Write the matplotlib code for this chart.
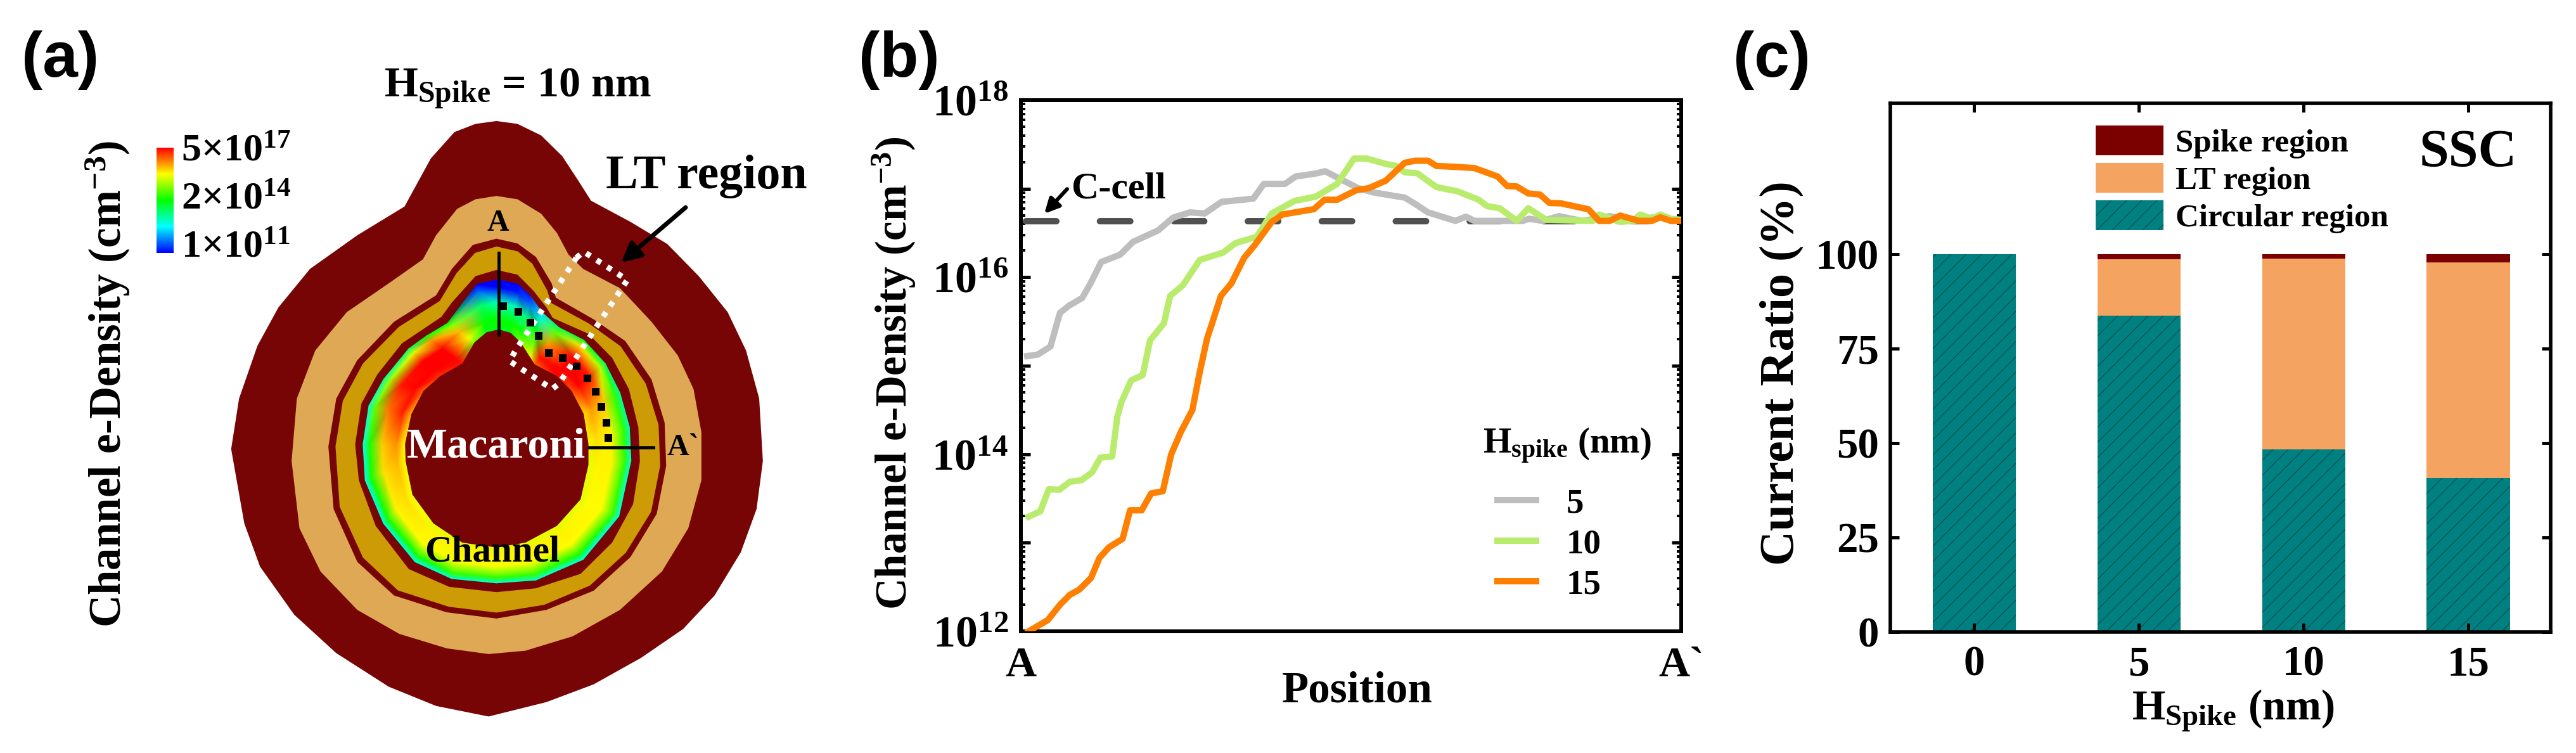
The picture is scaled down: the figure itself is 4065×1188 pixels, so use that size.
import numpy as np
import matplotlib
matplotlib.use("Agg")
import matplotlib.pyplot as plt
from matplotlib.colors import LinearSegmentedColormap
from matplotlib.ticker import FixedLocator, FuncFormatter, NullFormatter

plt.rcParams['font.family'] = ['Liberation Serif', 'DejaVu Serif']
plt.rcParams['font.weight'] = 'bold'
plt.rcParams['axes.labelweight'] = 'bold'
plt.rcParams['mathtext.fontset'] = 'custom'
plt.rcParams['mathtext.rm'] = 'Liberation Serif:bold'
plt.rcParams['mathtext.it'] = 'Liberation Serif:bold'
plt.rcParams['mathtext.bf'] = 'Liberation Serif:bold'
plt.rcParams['hatch.linewidth'] = 0.6

# =========================
# (a) outlines of the cell cross-section
# =========================
blocking_outline = [(945, 252), (985, 258), (1030, 282), (1070, 325), (1100, 375), (1125, 418), (1200, 462),
                    (1270, 508), (1330, 575), (1385, 650), (1420, 730), (1445, 830), (1452, 960), (1440, 1060),
                    (1410, 1150), (1360, 1240), (1300, 1310), (1220, 1370), (1130, 1425), (1040, 1462), (930, 1492),
                    (830, 1470), (740, 1430), (640, 1360), (560, 1280), (495, 1180), (465, 1090), (440, 935),
                    (455, 830), (490, 720), (530, 640), (590, 560), (680, 490), (770, 430), (790, 390), (820, 330),
                    (865, 275), (905, 258)]
tan_outline = [(945, 408), (985, 415), (1030, 445), (1060, 485), (1082, 530), (1110, 560), (1180, 600), (1240, 670),
               (1290, 740), (1320, 810), (1335, 900), (1335, 1000), (1310, 1100), (1260, 1190), (1180, 1270),
               (1090, 1325), (1000, 1355), (930, 1362), (850, 1350), (760, 1320), (680, 1270), (610, 1190),
               (570, 1100), (555, 960), (565, 830), (600, 730), (660, 650), (740, 590), (805, 540), (830, 490),
               (870, 435), (905, 415)]
ring1_outline = [(945, 497), (985, 507), (1020, 535), (1050, 590), (1058, 620), (1130, 665), (1190, 710), (1240, 790),
                 (1265, 880), (1268, 970), (1250, 1070), (1200, 1160), (1130, 1230), (1040, 1270), (945, 1288),
                 (850, 1275), (750, 1240), (680, 1170), (635, 1060), (625, 930), (640, 830), (680, 750), (750, 670),
                 (830, 615), (860, 560), (900, 510)]
gold_outline = [(945, 515), (985, 525), (1012, 550), (1040, 605), (1048, 632), (1120, 675), (1180, 722), (1228, 800),
                (1252, 885), (1255, 970), (1238, 1065), (1190, 1150), (1122, 1218), (1035, 1258), (945, 1274),
                (855, 1262), (758, 1228), (692, 1160), (648, 1055), (640, 930), (654, 835), (692, 758), (760, 682),
                (838, 628), (870, 570), (905, 528)]
ring2_outline = [(945, 562), (985, 572), (1015, 605), (1040, 640), (1052, 662), (1120, 695), (1165, 745), (1197, 810),
                 (1215, 890), (1218, 960), (1205, 1050), (1165, 1130), (1105, 1195), (1020, 1225), (945, 1233),
                 (855, 1222), (778, 1185), (715, 1095), (683, 1000), (676, 925), (688, 840), (718, 780), (765, 715),
                 (840, 660), (860, 630), (905, 575)]

# channel stations: macaroni side, gate side, and the colour level at five depths between them
channel_inner = [(949, 686), (972, 693), (991, 713), (1009, 744), (1018, 759), (1060, 783), (1088, 814), (1111, 862),
                 (1120, 924), (1120, 968), (1105, 1040), (1060, 1095), (1000, 1130), (945, 1140), (880, 1130),
                 (825, 1090), (785, 1030), (772, 960), (771, 924), (783, 862), (806, 814), (838, 783), (880, 757),
                 (903, 713), (926, 692)]
channel_outer = [(949, 582), (986, 592), (1009, 616), (1032, 651), (1064, 682), (1111, 708), (1152, 757), (1180, 818),
                 (1198, 889), (1201, 959), (1178, 1075), (1110, 1165), (1020, 1208), (945, 1214), (860, 1205),
                 (790, 1170), (730, 1090), (695, 1000), (691, 925), (702, 845), (730, 790), (778, 726), (811, 700),
                 (852, 673), (908, 592)]
channel_level = [[.48, .50, .32, .00, .00], [.48, .50, .32, .02, .00], [.62, .52, .38, .10, .02],
                 [.75, .65, .50, .30, .22], [.90, .98, .85, .60, .42], [1.0, 1.0, 1.0, .78, .48],
                 [.92, 1.0, .97, .68, .42], [.78, .85, .80, .55, .35], [.74, .78, .76, .55, .33],
                 [.72, .76, .76, .55, .30], [.72, .75, .75, .55, .28], [.72, .76, .75, .52, .28],
                 [.72, .76, .74, .55, .30], [.72, .76, .74, .55, .30], [.72, .76, .74, .55, .30],
                 [.72, .76, .75, .52, .28], [.74, .78, .76, .52, .28], [.74, .82, .78, .52, .28],
                 [.75, .86, .80, .52, .28], [.82, .97, .88, .60, .30], [.90, 1.0, .98, .66, .35],
                 [.95, 1.0, 1.0, .72, .40], [.98, 1.0, 1.0, .85, .50], [.62, .74, .82, .65, .50],
                 [.48, .50, .40, .10, .00]]
channel_depth = [0, .2, .55, .85, 1]
channel_colours = ['#0000FF', '#00FFFF', '#00FF00', '#FFFF00', '#FF0000']

lt_box = [(1097, 537), (1111, 524), (1194, 583), (1064, 799), (1051, 810), (970, 752), (981, 730), (1097, 537)]
current_path = [(958, 637), (987, 650), (1009, 672), (1025, 700), (1044, 735), (1071, 746), (1097, 763), (1118, 788),
                (1134, 816), (1145, 847), (1154, 880), (1158, 912)]
cut_a = [(949, 527), (949, 698)]
cut_a2 = [(1122, 932), (1243, 932)]

# =========================
# (b) channel density along the cut, log10(cm-3)
# =========================
pos_5 = [.0096, .0256, .0448, .0528, .0592, .0736, .0928, .1056, .1216, .1504, .1695, .2079, .2303, .2559, .2783,
         .3039, .3519, .3679, .3999, .4159, .4479, .4607, .4885, .5109, .5333, .5813, .5973, .6165, .658, .674,
         .6868, .7412, .76, .77, .79, .8148, .85, .8916, .93, .96, 1.0]
log_5 = [15.109, 15.126, 15.217, 15.431, 15.598, 15.682, 15.765, 15.932, 16.171, 16.255, 16.398, 16.529, 16.672,
         16.732, 16.72, 16.851, 16.887, 17.054, 17.054, 17.137, 17.173, 17.197, 17.09, 17.006, 16.958, 16.899,
         16.827, 16.732, 16.636, 16.684, 16.636, 16.636, 16.636, 16.66, 16.636, 16.69, 16.636, 16.69, 16.636,
         16.68, 16.64]
pos_10 = [.0118, .0294, .0422, .0582, .0742, .0918, .1078, .1206, .1382, .1462, .1526, .167, .1845, .1957, .2165,
          .2261, .2453, .2709, .3061, .3253, .3573, .3797, .4149, .4469, .4789, .4885, .5045, .5237, .5525, .5685,
          .5813, .6005, .6293, .6612, .6932, .706, .7252, .7508, .7684, .7956, .866, .8756, .9076, .9267, .9379,
          .9555, .9683, .9843, 1.0]
log_10 = [13.295, 13.355, 13.605, 13.598, 13.689, 13.708, 13.796, 13.963, 13.975, 14.429, 14.596, 14.834, 14.894,
          15.288, 15.478, 15.789, 15.909, 16.195, 16.278, 16.386, 16.457, 16.72, 16.863, 16.911, 17.054, 17.161,
          17.34, 17.34, 17.28, 17.257, 17.185, 17.173, 17.018, 16.97, 16.875, 16.803, 16.779, 16.636, 16.779,
          16.648, 16.636, 16.708, 16.625, 16.636, 16.708, 16.66, 16.708, 16.66, 16.648]
pos_15 = [.0118, .0406, .0598, .0742, .0886, .1062, .119, .1334, .1541, .1653, .1829, .1973, .2149, .2277, .2421,
          .2597, .2709, .2821, .2885, .3029, .3189, .3381, .3541, .3797, .3957, .4437, .4597, .4789, .5077, .5269,
          .5525, .5813, .5973, .6165, .6293, .6612, .6868, .722, .7364, .7508, .7684, .786, .8004, .818, .8596,
          .8756, .8916, .9076, .9363, .9555, .9683, .9843, 1.0]
log_15 = [12.0, 12.126, 12.305, 12.412, 12.472, 12.603, 12.83, 12.949, 13.045, 13.367, 13.367, 13.558, 13.582, 14.0,
          14.25, 14.5, 14.93, 15.311, 15.455, 15.789, 15.932, 16.219, 16.362, 16.624, 16.708, 16.768, 16.875, 16.875,
          16.982, 17.006, 17.09, 17.292, 17.316, 17.316, 17.257, 17.245, 17.233, 17.137, 17.03, 17.025, 16.946,
          16.934, 16.839, 16.834, 16.767, 16.636, 16.636, 16.696, 16.636, 16.636, 16.677, 16.636, 16.636]
c_cell_log = 16.636

# =========================
# (c) current share per region
# =========================
h_spike = [0, 5, 10, 15]
circular = [100, 83.8, 48.3, 40.8]
lt_part = [0, 14.9, 50.55, 57.0]
spike_part = [0, 1.3, 1.15, 2.2]

DARK = '#780505'
W, H = 4065, 1188

fig = plt.figure(figsize=(W / 144, H / 144), dpi=144)


def px_axes(left, top, right, bottom):
    return fig.add_axes([left / W, 1 - bottom / H, (right - left) / W, (bottom - top) / H])


# =========================
# panel a
# =========================
ax_a = px_axes(0, 0, 1300, 1188)
ax_a.set_xlim(0, 1568)
ax_a.set_ylim(1568, 0)
ax_a.axis('off')

ax_a.fill(*zip(*blocking_outline), color=DARK, lw=0)
ax_a.fill(*zip(*tan_outline), color='#DEA854', lw=0)
ax_a.fill(*zip(*ring1_outline), color=DARK, lw=0)
ax_a.fill(*zip(*gold_outline), facecolor='#CC9B06', edgecolor='#CC9B06', lw=1.2)
ax_a.fill(*zip(*ring2_outline), color=DARK, lw=0)

inner = np.array(channel_inner, dtype=float)
outer = np.array(channel_outer, dtype=float)
level = np.array(channel_level)
depth = np.array(channel_depth)
n_st, n_dp = level.shape
xs = inner[:, 0][:, None] + (outer[:, 0] - inner[:, 0])[:, None] * depth
ys = inner[:, 1][:, None] + (outer[:, 1] - inner[:, 1])[:, None] * depth
tris = []
for i in range(n_st):
    k = (i + 1) % n_st
    for j in range(n_dp - 1):
        a, b, c, d = i * n_dp + j, i * n_dp + j + 1, k * n_dp + j, k * n_dp + j + 1
        tris += [[a, b, c], [b, d, c]]
rainbow = LinearSegmentedColormap.from_list('rainbow5', channel_colours)
mesh = ax_a.tripcolor(xs.ravel(), ys.ravel(), np.array(tris), level.ravel(), shading='gouraud',
                      cmap=rainbow, vmin=0, vmax=1)
ax_a.fill(inner[:, 0], inner[:, 1], color=DARK, lw=0)

ax_a.plot(*zip(*lt_box), color='white', lw=4.5, ls=(0, (.9, 1.3)), zorder=5)
ax_a.plot(*zip(*current_path), color='black', ls='none', marker='s', ms=5, zorder=6)
ax_a.plot(*zip(*cut_a), color='black', lw=2.4, zorder=7)
ax_a.plot(*zip(*cut_a2), color='black', lw=2.4, zorder=7)
ax_a.annotate('', xy=(1182, 547), xytext=(1305, 432),
              arrowprops=dict(arrowstyle='-|>', color='black', lw=3.5, mutation_scale=32, shrinkA=0, shrinkB=0))

ax_a.text(985, 185, r'H$_{Spike}$ = 10 nm', fontsize=34, ha='center', va='center')
ax_a.text(1345, 368, 'LT region', fontsize=38, ha='center', va='center')
ax_a.text(948, 465, 'A', fontsize=24, ha='center', va='center')
ax_a.text(1270, 932, 'A`', fontsize=24, ha='left', va='center')
ax_a.text(945, 930, 'Macaroni', fontsize=34, color='white', ha='center', va='center')
ax_a.text(937, 1150, 'Channel', fontsize=29.5, ha='center', va='center')
ax_a.text(205, 800, r'Channel e-Density (cm$^{-3}$)', fontsize=35.5, rotation=90, ha='center', va='center')
for y_txt, lab in zip([315, 415, 515], ['5×10$^{17}$', '2×10$^{14}$', '1×10$^{11}$']):
    ax_a.text(345, y_txt, lab, fontsize=31, ha='left', va='center')

cax = px_axes(247, 233, 274, 399)
cbar = fig.colorbar(mesh, cax=cax)
cbar.set_ticks([])
cbar.outline.set_visible(False)

# =========================
# panel b
# =========================
ax_b = px_axes(1611, 158, 2653, 996)
ax_b.set_yscale('log')
ax_b.set_xlim(0, 1)
ax_b.set_ylim(1e12, 1e18)

ax_b.plot([0.008, 1], [10 ** c_cell_log] * 2, color='#505050', lw=5, ls=(0, (4.8, 6.87)),
          dash_capstyle='round', zorder=2)
line_5, = ax_b.plot(pos_5, 10 ** np.array(log_5), color='#BEBEBE', lw=5, label='5', zorder=3)
line_10, = ax_b.plot(pos_10, 10 ** np.array(log_10), color='#B9EC6D', lw=5, label='10', zorder=4)
line_15, = ax_b.plot(pos_15, 10 ** np.array(log_15), color='#FF7F00', lw=5, label='15', zorder=5)

decades = [10.0 ** e for e in range(12, 19)]
minors = [m * d for d in decades[:-1] for m in range(2, 10)]
ax_b.yaxis.set_major_locator(FixedLocator(decades))
ax_b.yaxis.set_minor_locator(FixedLocator(minors))
ax_b.yaxis.set_minor_formatter(NullFormatter())


def decade_label(v, _):
    e = int(round(np.log10(v)))
    return '10$^{%d}$' % e if e % 2 == 0 else ''


ax_b.yaxis.set_major_formatter(FuncFormatter(decade_label))
ax_b.tick_params(axis='y', which='major', direction='in', left=True, right=True, length=7.5, width=2.5,
                 labelsize=35, pad=10)
ax_b.tick_params(axis='y', which='minor', direction='in', left=True, right=True, length=3.5, width=2)
ax_b.set_xticks([0, 1], ['A', 'A`'])
ax_b.tick_params(axis='x', length=0, labelsize=34, pad=12)
for sp in ax_b.spines.values():
    sp.set_linewidth(3)

ax_b.set_xlabel('Position', fontsize=34.5, va='center')
ax_b.xaxis.set_label_coords(.509, -.113)
ax_b.set_ylabel(r'Channel e-Density (cm$^{-3}$)', fontsize=34.5, va='center')
ax_b.yaxis.set_label_coords(-.192, .486)

ax_b.text(.148, 10 ** 16.996, 'C-cell', fontsize=30, ha='center', va='center')
ax_b.annotate('', xy=(.0355, 10 ** 16.717), xytext=(.07, 10 ** 16.996),
              arrowprops=dict(arrowstyle='-|>', color='black', lw=3, mutation_scale=24, shrinkA=0, shrinkB=0))
ax_b.text(.7, .349, r'H$_{spike}$ (nm)', fontsize=28.5, ha='left', va='center', transform=ax_b.transAxes)
ax_b.legend(handles=[line_5, line_10, line_15], loc='upper left', bbox_to_anchor=(.722, .27), frameon=False,
            fontsize=27.5, borderpad=0, borderaxespad=0, handlelength=1.1, handletextpad=.87, labelspacing=.25)

# =========================
# panel c
# =========================
ax_c = px_axes(2983, 163, 4025, 997)
bar_w = 2.52
bottom_lt = np.array(circular)
bottom_sp = bottom_lt + np.array(lt_part)
ax_c.bar(h_spike, circular, bar_w, color='#008080', edgecolor='#0B4F4F', hatch='//', lw=0, label='Circular region')
ax_c.bar(h_spike, lt_part, bar_w, bottom=bottom_lt, color='#F4A460', lw=0, label='LT region')
ax_c.bar(h_spike, spike_part, bar_w, bottom=bottom_sp, color='#7B0000', lw=0, label='Spike region')
ax_c.set_xlim(-2.54, 17.5)
ax_c.set_ylim(0, 140)
ax_c.set_xticks(h_spike)
ax_c.set_yticks([0, 25, 50, 75, 100])
ax_c.tick_params(axis='both', direction='in', top=True, right=True, length=7, width=2.5, labelsize=33.5)
ax_c.tick_params(axis='x', pad=11)
ax_c.tick_params(axis='y', pad=9)
ax_c.set_axisbelow(False)
for sp in ax_c.spines.values():
    sp.set_linewidth(2.8)

ax_c.set_xlabel(r'H$_{Spike}$ (nm)', fontsize=33.5, va='center')
ax_c.xaxis.set_label_coords(.519, -.149)
ax_c.set_ylabel('Current Ratio (%)', fontsize=38, va='center')
ax_c.yaxis.set_label_coords(-.165, .49)
ax_c.text(.875, .905, 'SSC', fontsize=42, ha='center', va='center', transform=ax_c.transAxes)

hd, lb = ax_c.get_legend_handles_labels()
ax_c.legend(hd[::-1], lb[::-1], loc='upper left', bbox_to_anchor=(.311, .958), frameon=False, fontsize=25.5,
            borderpad=0, borderaxespad=0, handlelength=2.1, handleheight=1.04, handletextpad=.37, labelspacing=.14)

# =========================
# panel labels
# =========================
for x_px, lab in [(95, '(a)'), (1419, '(b)'), (2796, '(c)')]:
    fig.text(x_px / W, 1 - 95 / H, lab, fontsize=50, family=['Liberation Sans'], ha='center', va='center')

plt.savefig("out.png", dpi=144)
plt.close()
